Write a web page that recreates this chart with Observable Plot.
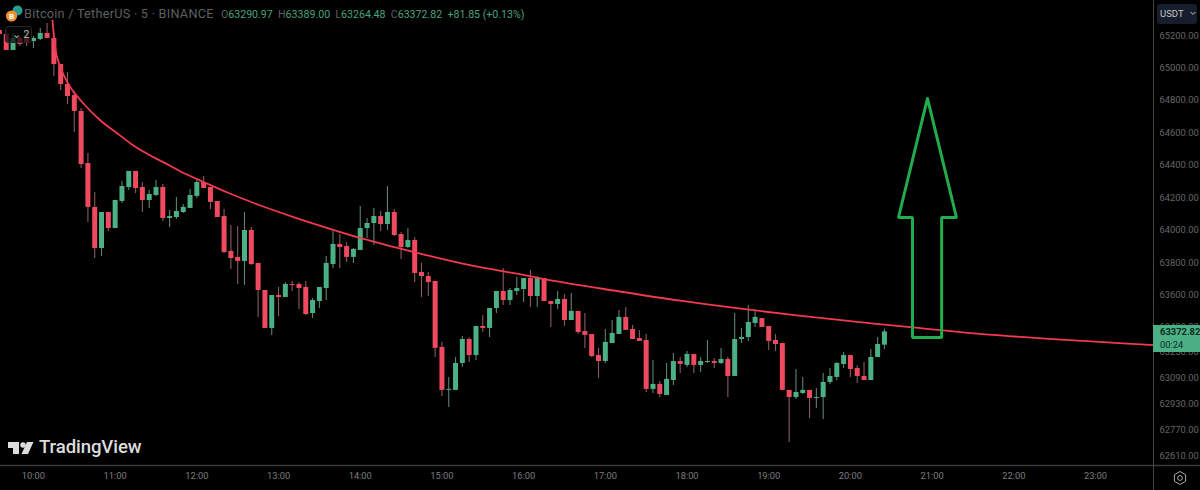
<!DOCTYPE html>
<html><head><meta charset="utf-8">
<script src="https://cdn.jsdelivr.net/npm/d3@7"></script>
<script src="https://cdn.jsdelivr.net/npm/@observablehq/plot@0.6"></script>
<style>
html,body{margin:0;padding:0;background:#000;width:1200px;height:490px;overflow:hidden}
#wrap{position:relative;width:1200px;height:490px;font-family:Roboto,sans-serif}
#wrap svg{display:block}
.o{position:absolute;white-space:nowrap}
</style></head><body><div id="wrap"></div>
<script>
// Candle index -5 is 09:35; one candle every 5 minutes, minutes counted from 10:00
const firstMinute = -25, stepMinutes = 5;
const opens = [
65231,65206,65108,65182,65182,65163,65176,65213,65182,65021,
64898,64830,64732,64411,64140,63887,64109,64010,64177,64263,
64362,64263,64183,64214,64263,64072,64078,64109,64134,64208,
64294,64263,64177,64084,63869,63832,63807,63998,63795,63628,
63394,63597,63585,63665,63665,63647,63486,63560,63640,63788,
63912,63899,63832,63875,64010,64041,64084,64035,64109,63973,
63893,63936,63739,63714,63684,63277,63012,63012,63178,63326,
63227,63406,63394,63517,63622,63566,63622,63634,63702,63591,
63702,63560,63542,63573,63443,63499,63375,63357,63227,63190,
63301,63357,63462,63388,63332,63320,63018,63049,62981,63073,
63190,63166,63234,63166,63184,63190,63178,63203,63098,63326,
63338,63425,63455,63406,63320,63301,63012,62968,62993,63012,
62962,62968,63061,63092,63172,63227,63147,63098,63073,63215,
63290.97];
const highs = [
65231,65231,65213,65194,65231,65194,65243,65274,65213,65021,
64972,64855,64750,64473,64232,64109,64109,64183,64300,64362,
64362,64294,64245,64306,64282,64121,64201,64158,64251,64306,
64331,64263,64177,64127,64029,64023,64109,64017,63795,63628,
63597,63647,63677,63684,63677,63684,63579,63647,63838,63992,
63973,63924,63887,64146,64072,64134,64115,64269,64127,63986,
64010,63955,63795,63739,63684,63308,63092,63215,63344,63338,
63406,63474,63517,63622,63764,63640,63708,63702,63751,63714,
63702,63560,63622,63603,63610,63499,63486,63357,63271,63388,
63443,63505,63523,63412,63382,63357,63197,63067,63178,63240,
63215,63252,63234,63215,63320,63209,63271,63215,63486,63394,
63536,63505,63455,63406,63357,63301,63012,63141,63092,63012,
63024,63116,63147,63184,63246,63227,63166,63184,63264,63338,
63389];
const lows = [
65206,65108,65108,65132,65132,65120,65169,65182,64947,64861,
64775,64602,64380,64047,63825,63838,63992,64010,64164,64245,
64226,64109,64134,64208,64053,64017,64066,64103,64134,64195,
64257,64127,64078,63856,63758,63665,63659,63782,63462,63394,
63351,63468,63585,63622,63511,63474,63455,63517,63566,63764,
63764,63801,63795,63875,63949,63906,63992,63998,63961,63819,
63887,63677,63585,63591,63215,62975,62907,63012,63153,63184,
63197,63369,63338,63486,63536,63536,63597,63554,63523,63523,
63560,63400,63511,63406,63443,63357,63271,63215,63086,63178,
63301,63357,63382,63326,63314,62999,62993,62968,62981,63042,
63116,63153,63116,63123,63178,63147,63172,62968,63098,63301,
63314,63400,63400,63258,63252,63012,62691,62956,62987,62839,
62901,62833,63049,63073,63147,63092,63055,63073,63073,63215,
63264.48];
const closes = [
65206,65108,65182,65145,65157,65182,65213,65182,65021,64898,
64824,64732,64405,64140,63887,64109,64010,64183,64269,64362,
64257,64183,64220,64263,64072,64084,64115,64140,64214,64294,
64257,64171,64078,63862,63825,63807,63998,63788,63628,63394,
63597,63585,63665,63659,63640,63480,63566,63647,63795,63912,
63893,63832,63881,64010,64041,64084,64035,64109,63967,63893,
63936,63733,63714,63677,63271,63012,63018,63178,63326,63227,
63406,63394,63517,63622,63566,63628,63640,63702,63591,63708,
63560,63542,63573,63443,63499,63369,63351,63221,63190,63308,
63363,63462,63382,63326,63314,63018,63049,62987,63080,63190,
63172,63234,63166,63190,63190,63178,63203,63098,63326,63338,
63431,63462,63400,63314,63295,63012,62968,62999,63012,62962,
62968,63061,63098,63178,63227,63141,63098,63073,63215,63295,
63372.82];

// Hand-drawn curve
const curveMinutes = [14,15.4,17.4,22.3,27.2,36.7,49.2,61.7,73.4,85.9,100.6,108,124.9,142.5,166.7,191,216,238.7,260,284,308,333,358,377,426,475,524,588,646,710,823];
const curvePrices  = [65293,65169,65065,64954,64880,64781,64676,64596,64522,64460,64396,64362,64297,64232,64152,64081,64013,63955,63906,63856,63807,63764,63727,63695,63628,63565,63511,63450,63400,63351,63291];

// Hand-drawn arrow outline
const arrowMinutes = [656.6,677.9,667,667,645.6,645.6,635.3,656.6];
const arrowPrices  = [64812,64078,64078,63338,63338,64078,64078,64812];

const hourMinutes = [0,60,120,180,240,300,360,420,480,540,600,660,720,780];
const hourLabels  = ["10:00","11:00","12:00","13:00","14:00","15:00","16:00","17:00","18:00","19:00","20:00","21:00","22:00","23:00"];
const priceTicks  = [65200,65000,64800,64600,64400,64200,64000,63800,63600,63400,63250,63090,62930,62770,62610];

const UP = "#4bb085", DOWN = "#f04a60", UPW = "#5d8272", DOWNW = "#8a5a62";
const candles = opens.map((o,i)=>({t:firstMinute+i*stepMinutes,o,h:highs[i],l:lows[i],c:closes[i],up:closes[i]>=o}));
const curve = curveMinutes.map((t,i)=>({t,p:curvePrices[i]}));
const arrow = arrowMinutes.map((t,i)=>({t,p:arrowPrices[i]}));

const chart = Plot.plot({
  width:1200,height:490,
  marginLeft:0,marginRight:47,marginTop:0,marginBottom:25,
  style:{background:"#000",fontFamily:"Roboto,sans-serif"},
  x:{domain:[-24.2,822.6],axis:null},
  y:{domain:[62549,65416],axis:null},
  marks:[
    Plot.ruleX(candles,{x:"t",y1:"l",y2:"h",stroke:d=>d.up?UPW:DOWNW,strokeWidth:1.1}),
    Plot.ruleX(candles,{x:"t",y1:"o",y2:"c",stroke:d=>d.up?UP:DOWN,strokeWidth:5}),
    Plot.line(curve,{x:"t",y:"p",stroke:"#f2394f",strokeWidth:1.8,curve:"catmull-rom"}),
    Plot.line(arrow,{x:"t",y:"p",stroke:"#22ad4c",strokeWidth:3,strokeLinejoin:"miter"}),
    Plot.ruleY([62549],{stroke:"#3a3a3a",strokeWidth:1.5,insetRight:-47}),
    Plot.ruleX([822.6],{stroke:"#444",strokeWidth:1,insetBottom:-25}),
    Plot.axisX({ticks:hourMinutes,tickFormat:d=>hourLabels[hourMinutes.indexOf(d)],tickSize:0,tickPadding:7,fontSize:9.3,color:"#7c7c7c",stroke:"none",label:null}),
    Plot.axisY({anchor:"right",ticks:priceTicks,tickFormat:d=>d.toFixed(2),tickSize:0,tickPadding:6,fontSize:9.4,color:"#666",label:null})
  ]
});
const wrap = document.getElementById("wrap");
wrap.appendChild(chart);
const add = h => wrap.insertAdjacentHTML("beforeend",h);
const v = s => `<span style="color:#4aa37b">${s}</span>`;
add(`<svg class="o" style="left:0;top:0" width="34" height="28"><circle cx="17.5" cy="10.5" r="5" fill="#2a9d8f"/><circle cx="11.5" cy="16" r="5.6" fill="#f0922b"/><text x="11.5" y="19" text-anchor="middle" font-size="8" font-weight="700" fill="#fff">B</text></svg>`);
add(`<div class="o" style="left:24px;top:6px;font-size:12.7px;color:#5f5f5f;letter-spacing:.25px">Bitcoin / TetherUS · 5 · BINANCE</div>`);
add(`<div class="o" style="left:221px;top:8px;font-size:10.6px;color:#5f5f5f">O${v("63290.97")}&nbsp; H${v("63389.00")}&nbsp; L${v("63264.48")}&nbsp; C${v("63372.82")}&nbsp; ${v("+81.85 (+0.13%)")}</div>`);
add(`<div class="o" style="left:5px;top:26px;width:27px;height:17px;box-sizing:border-box;background:rgba(8,8,8,.72);border:1px solid #262626;border-radius:3px;color:#bbb;font-size:10.5px;line-height:15px;padding-left:6px">⌄&nbsp;2</div>`);
add(`<div class="o" style="left:1157px;top:4px;width:40px;height:20px;box-sizing:border-box;background:#161d2c;border-radius:3px;color:#c4c4c4;font-size:9.5px;line-height:20px;padding-left:3px">USDT</div>`);
add(`<svg class="o" style="left:1190px;top:11px" width="6" height="5"><path d="M.7 1 3 3.4 5.3 1" fill="none" stroke="#c4c4c4" stroke-width="1"/></svg>`);
add(`<div class="o" style="left:1153px;top:325px;width:47px;height:27px;background:#4bb085;color:#0b2a1d;font-size:9.4px;line-height:12.5px;padding:1px 0 0 7px;box-sizing:border-box"><b>63372.82</b><br>00:24</div>`);
add(`<svg class="o" style="left:1170px;top:468px" width="20" height="20"><path d="M10 3.5 15.6 6.8V13.2L10 16.5 4.4 13.2V6.8Z" fill="none" stroke="#a8a8a8" stroke-width="1"/><circle cx="10" cy="10" r="2.4" fill="none" stroke="#a8a8a8" stroke-width="1"/></svg>`);
add(`<svg class="o" style="left:6px;top:440px" width="30" height="16"><path d="M2 2h11v12H7V8H2Z" fill="#dcdcdc"/><circle cx="17" cy="5" r="2.7" fill="#dcdcdc"/><path d="M15.5 14 21 2h6.5L22 14Z" fill="#dcdcdc"/></svg>`);
add(`<div class="o" style="left:39px;top:436px;font-size:18.6px;font-weight:500;color:#dcdcdc;letter-spacing:-.1px">TradingView</div>`);
</script></body></html>
